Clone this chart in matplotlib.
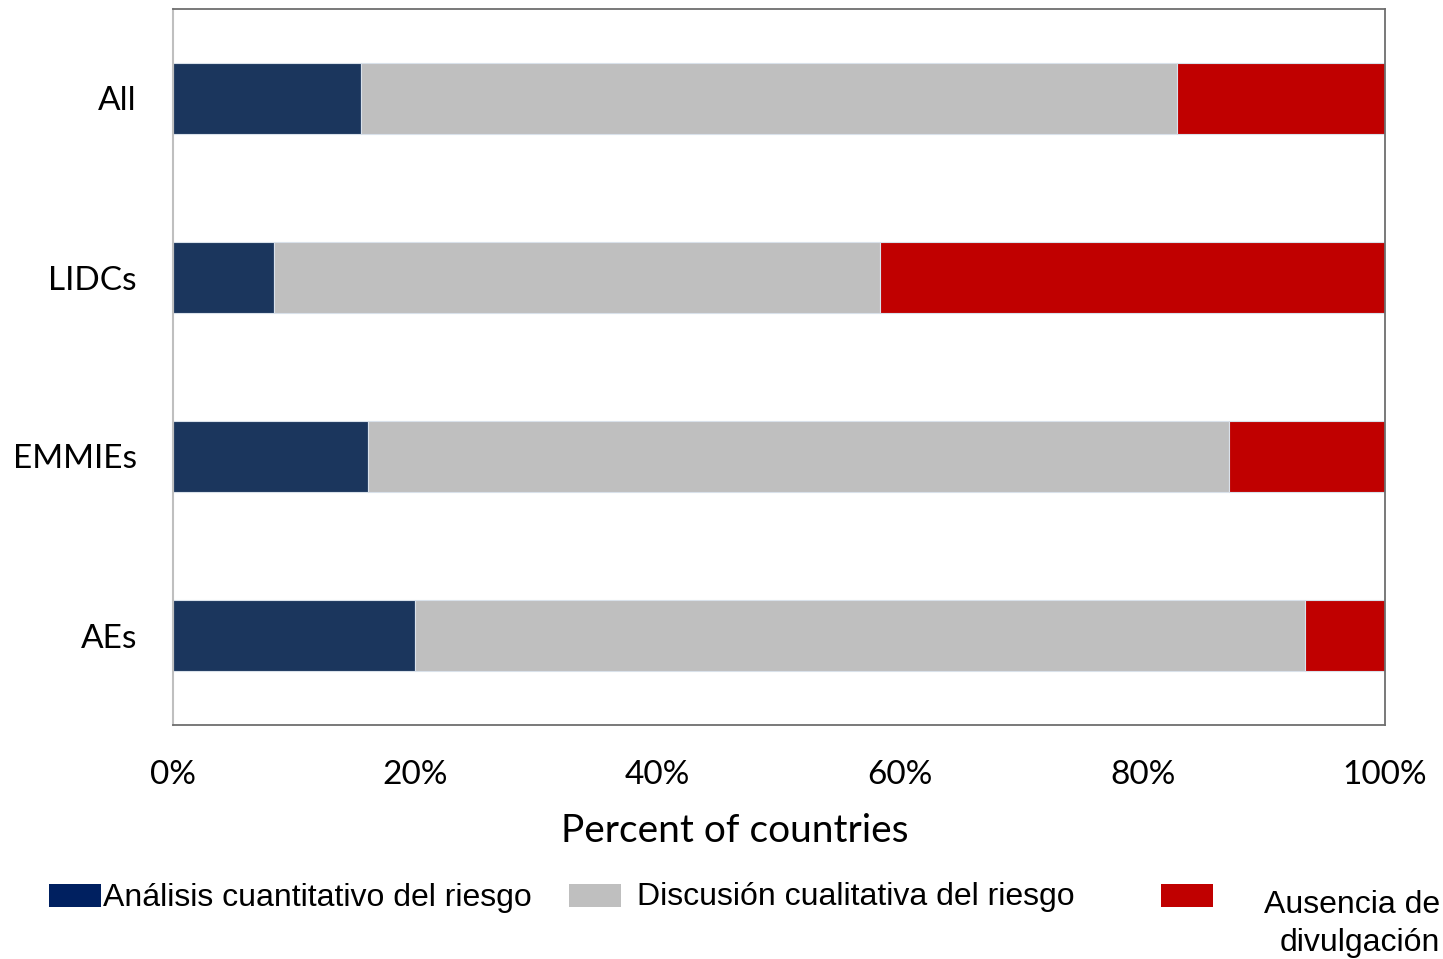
import matplotlib
matplotlib.use("Agg")
import matplotlib.pyplot as plt
from matplotlib.patches import Rectangle
import numpy as np

categories = ["AEs", "EMMIEs", "LIDCs", "All"]
quantitative = [20.0, 16.1, 8.3, 15.5]
qualitative = [73.4, 71.0, 50.0, 67.3]
absence = [6.6, 12.9, 41.7, 17.2]
series_labels = ["Análisis cuantitativo del riesgo", "Discusión cualitativa del riesgo", "Ausencia de\ndivulgación"]
bar_colors = ["#1B365D", "#BFBFBF", "#C00000"]
legend_colors = ["#002060", "#BFBFBF", "#C00000"]
xticks = [0, 20, 40, 60, 80, 100]
xticklabels = ["0%", "20%", "40%", "60%", "80%", "100%"]

W, H = 1443, 959
fig = plt.figure(figsize=(W / 100, H / 100), dpi=100)
ax = fig.add_axes([173 / W, 1 - 725 / H, (1385 - 173) / W, (725 - 9) / H])

y = np.arange(len(categories))
left = np.zeros(len(categories))
for vals, col in zip([quantitative, qualitative, absence], bar_colors):
    ax.barh(y, vals, left=left, height=0.4, color=col, edgecolor="#D9E1EA", linewidth=0.8)
    left += np.array(vals)

ax.set_xlim(0, 100)
ax.set_ylim(-0.5, 3.5)
ax.set_yticks(y)
ax.set_yticklabels(categories, fontsize=24, family="Lato")
ax.set_xticks(xticks)
ax.set_xticklabels(xticklabels, fontsize=24, family="Lato")
ax.tick_params(axis="both", length=0)
ax.tick_params(axis="x", pad=25)
ax.tick_params(axis="y", pad=26)
for s in ["top", "right", "bottom"]:
    ax.spines[s].set_color("#6E6E6E")
    ax.spines[s].set_linewidth(1.3)
ax.spines["left"].set_color("#BFBFBF")
ax.spines["left"].set_linewidth(1.5)

fig.text(735 / W, 1 - 831 / H, "Percent of countries", fontsize=28, family="Lato",
         ha="center", va="center")

# legend
patch_x = [49, 569, 1161]
for px, col in zip(patch_x, legend_colors):
    fig.patches.append(Rectangle((px / W, 1 - 907 / H), 52 / W, 23 / H, transform=fig.transFigure,
                                 facecolor=col, edgecolor="none"))
fig.text(103 / W, 1 - 898 / H, series_labels[0], fontsize=23, family="Liberation Sans",
         ha="left", va="center")
fig.text(637 / W, 1 - 897 / H, series_labels[1], fontsize=23, family="Liberation Sans",
         ha="left", va="center")
fig.text(1440 / W, 1 - 924 / H, series_labels[2], fontsize=23, family="Liberation Sans",
         ha="right", va="center", multialignment="right", linespacing=1.32)

fig.savefig("out.png", dpi=100)
